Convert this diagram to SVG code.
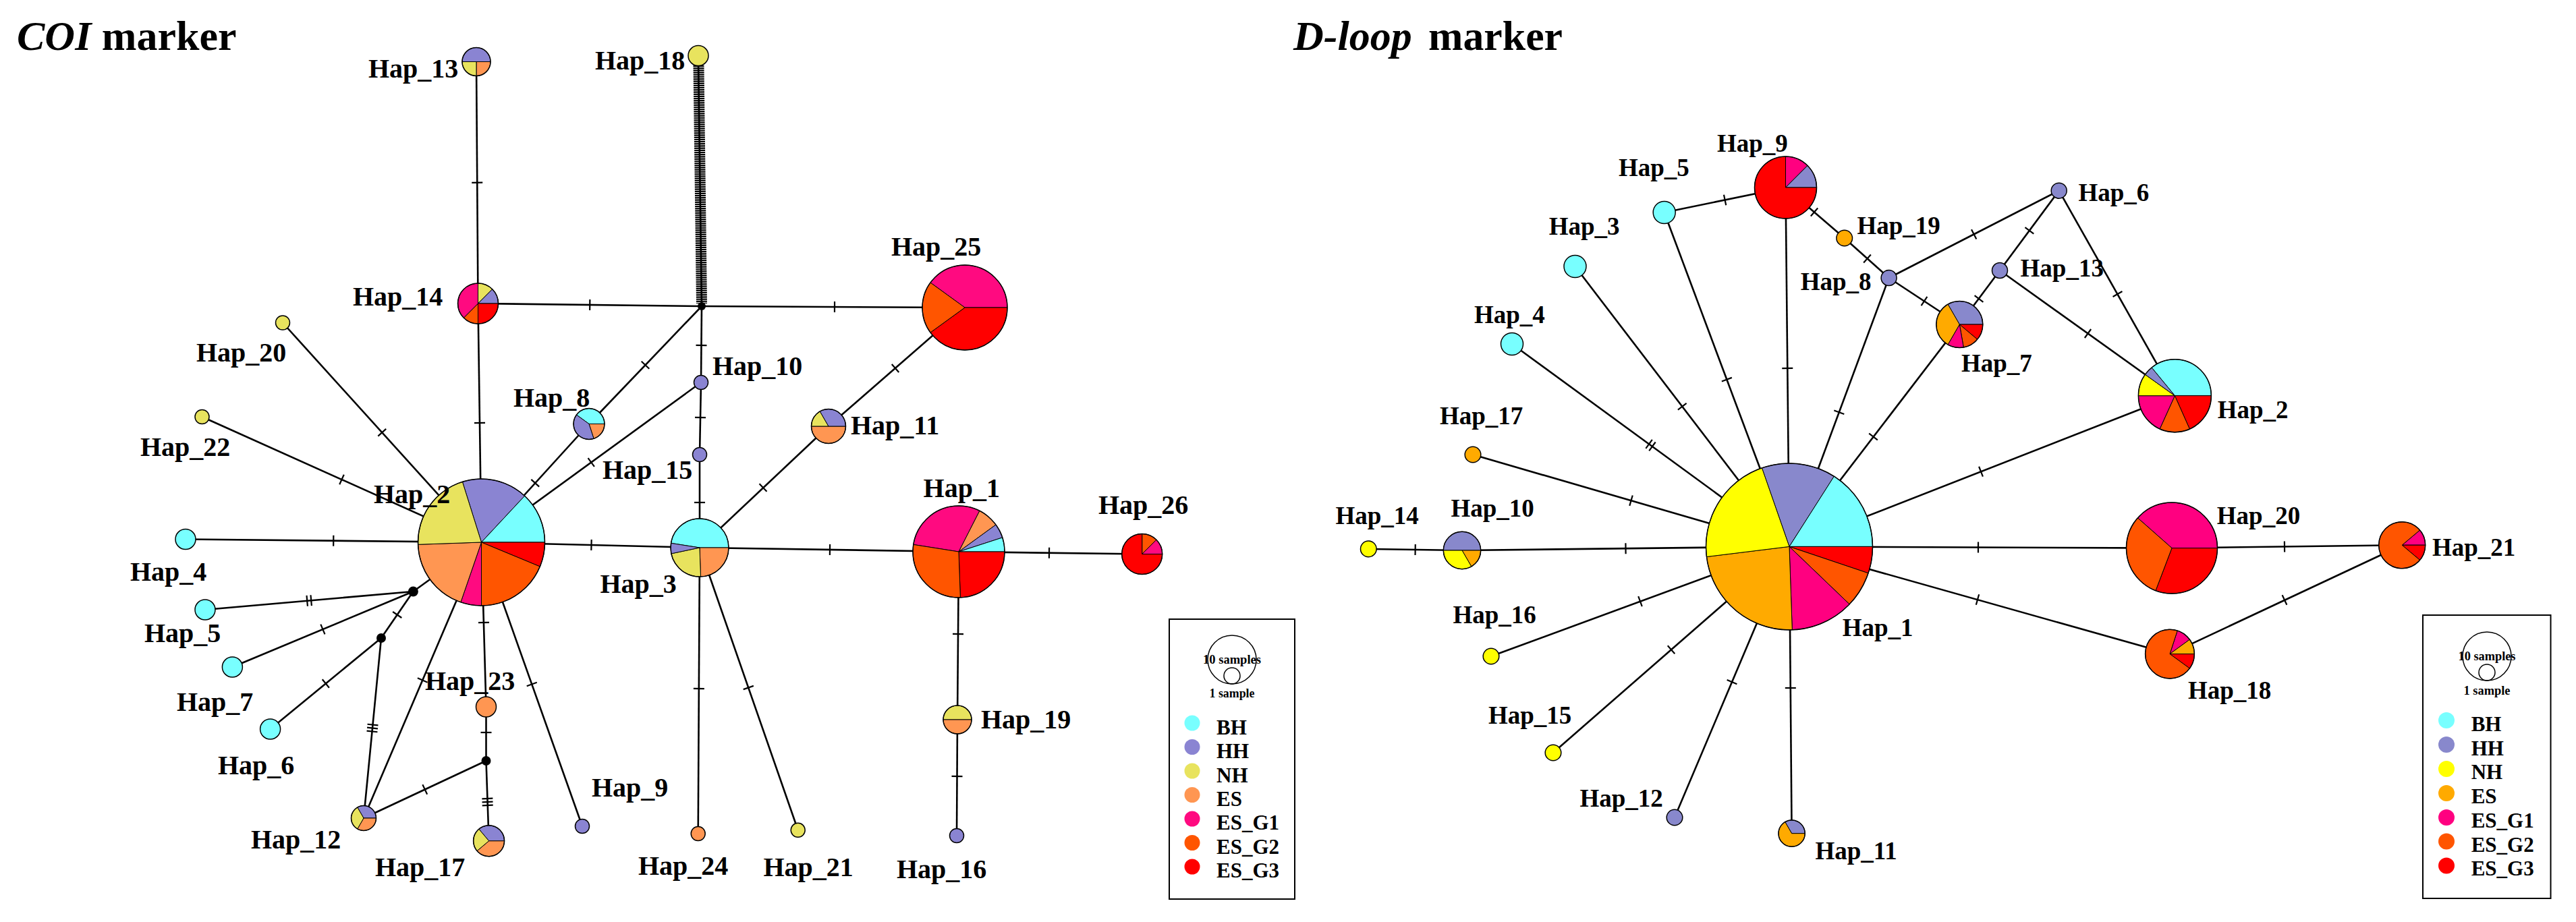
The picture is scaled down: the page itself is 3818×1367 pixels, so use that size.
<svg xmlns="http://www.w3.org/2000/svg" xmlns:xlink="http://www.w3.org/1999/xlink" width="3818" height="1367" viewBox="0 0 3818 1367">
<style>
.ln{stroke:#000;stroke-width:2.6;fill:none}
.o{stroke:#000;stroke-width:1.5}
.s{stroke:#000;stroke-width:1;stroke-linejoin:round}
.ring{fill:none;stroke:#000;stroke-width:1.5}
.dot{fill:#000}
.cbh{fill:#78FFFF}.chh{fill:#8A84D2}.cnh{fill:#E8E35E}.ces{fill:#FF9652}.cg1{fill:#FF0A80}.cg2{fill:#FF5500}.cg3{fill:#FF0000}
.dbh{fill:#78FFFF}.dhh{fill:#8888CC}.dnh{fill:#FFFF00}.des{fill:#FFAA00}.dg1{fill:#FF0080}.dg2{fill:#FF5500}.dg3{fill:#FF0000}
text{font-family:"Liberation Serif","Times New Roman",serif;font-weight:bold;fill:#000}
.lc{font-size:40px}
.ld{font-size:37px}
.lg{font-size:31px}
.ls{font-size:19px}
.ttl{font-size:62px}
.it{font-style:italic}
</style>
<defs>
<line id="t1" x1="0" y1="-8" x2="0" y2="8" stroke="#000" stroke-width="2.2"/>
<g id="t2" stroke="#000" stroke-width="2.2"><line x1="-3" y1="-8" x2="-3" y2="8"/><line x1="3" y1="-8" x2="3" y2="8"/></g>
<g id="t3" stroke="#000" stroke-width="2.2"><line x1="-5" y1="-8" x2="-5" y2="8"/><line x1="0" y1="-8" x2="0" y2="8"/><line x1="5" y1="-8" x2="5" y2="8"/></g>
</defs>
<rect width="3818" height="1367" fill="#fff"/>

<text class="ttl" x="25" y="74"><tspan class="it">COI</tspan> marker</text>
<text class="ttl it" x="1917" y="74">D-loop</text>
<text class="ttl" x="2117" y="74" textLength="199" lengthAdjust="spacingAndGlyphs">marker</text>

<g id="coi-connectors">
<line class="ln" x1="706" y1="91.5" x2="708.5" y2="450"/>
<line class="ln" x1="708.5" y1="450" x2="1040" y2="454"/>
<line class="ln" x1="708.5" y1="450" x2="713.5" y2="804"/>
<line class="ln" x1="419" y1="478.5" x2="713.5" y2="804"/>
<line class="ln" x1="299.5" y1="618" x2="713.5" y2="804"/>
<line class="ln" x1="275" y1="799.5" x2="713.5" y2="804"/>
<line class="ln" x1="304" y1="904" x2="612.4" y2="877"/>
<line class="ln" x1="344.4" y1="989" x2="612.4" y2="877"/>
<line class="ln" x1="612.4" y1="877" x2="713.5" y2="804"/>
<line class="ln" x1="612.4" y1="877" x2="565" y2="946"/>
<line class="ln" x1="565" y1="946" x2="400.6" y2="1081"/>
<line class="ln" x1="565" y1="946" x2="539" y2="1213"/>
<line class="ln" x1="713.5" y1="804" x2="539" y2="1213"/>
<line class="ln" x1="713.5" y1="804" x2="720.5" y2="1048"/>
<line class="ln" x1="720.5" y1="1048" x2="720.5" y2="1128"/>
<line class="ln" x1="720.5" y1="1128" x2="539" y2="1213"/>
<line class="ln" x1="720.5" y1="1128" x2="724.6" y2="1246.8"/>
<line class="ln" x1="713.5" y1="804" x2="863" y2="1225"/>
<line class="ln" x1="713.5" y1="804" x2="873" y2="628.5"/>
<line class="ln" x1="873" y1="628.5" x2="1040" y2="454"/>
<line class="ln" x1="713.5" y1="804" x2="1039" y2="567"/>
<line class="ln" x1="1040" y1="454" x2="1039" y2="567"/>
<line class="ln" x1="1039" y1="567" x2="1037" y2="674"/>
<line class="ln" x1="1037" y1="674" x2="1037" y2="812"/>
<line class="ln" x1="1040" y1="454" x2="1430" y2="456"/>
<line class="ln" x1="1430" y1="456" x2="1228" y2="632"/>
<line class="ln" x1="1228" y1="632" x2="1037" y2="812"/>
<line class="ln" x1="713.5" y1="804" x2="1037" y2="812"/>
<line class="ln" x1="1037" y1="812" x2="1034.7" y2="1236"/>
<line class="ln" x1="1037" y1="812" x2="1182.7" y2="1230.8"/>
<line class="ln" x1="1037" y1="812" x2="1421" y2="818"/>
<line class="ln" x1="1421" y1="818" x2="1692.7" y2="821.5"/>
<line class="ln" x1="1421" y1="818" x2="1419" y2="1067"/>
<line class="ln" x1="1419" y1="1067" x2="1418" y2="1239"/>
<line x1="1035.5" y1="97" x2="1040" y2="450" stroke="#000" stroke-width="16" stroke-dasharray="2.2 1"/>
<line class="ln" x1="1035" y1="90" x2="1040" y2="454" stroke-width="5"/>
<use xlink:href="#t1" transform="translate(707.25 270.75) rotate(89.6)"/>
<use xlink:href="#t1" transform="translate(874.25 452) rotate(0.7)"/>
<use xlink:href="#t1" transform="translate(711 627) rotate(89.2)"/>
<use xlink:href="#t1" transform="translate(566.25 641.25) rotate(47.9)"/>
<use xlink:href="#t1" transform="translate(506.5 711) rotate(24.2)"/>
<use xlink:href="#t1" transform="translate(494.25 801.75) rotate(0.6)"/>
<use xlink:href="#t2" transform="translate(458.2 890.5) rotate(-5)"/>
<use xlink:href="#t1" transform="translate(478.4 933) rotate(-22.7)"/>
<use xlink:href="#t1" transform="translate(588.7 911.5) rotate(124.5)"/>
<use xlink:href="#t1" transform="translate(482.8 1013.5) rotate(140.6)"/>
<use xlink:href="#t3" transform="translate(552 1079.5) rotate(95.6)"/>
<use xlink:href="#t1" transform="translate(626.25 1008.5) rotate(113.1)"/>
<use xlink:href="#t1" transform="translate(717 923) rotate(88.4)"/>
<use xlink:href="#t1" transform="translate(720.5 1086) rotate(90)"/>
<use xlink:href="#t1" transform="translate(629.75 1170.5) rotate(154.9)"/>
<use xlink:href="#t3" transform="translate(722.55 1189) rotate(88)"/>
<use xlink:href="#t1" transform="translate(788.25 1014.5) rotate(70.4)"/>
<use xlink:href="#t1" transform="translate(793.25 716.25) rotate(-47.7)"/>
<use xlink:href="#t1" transform="translate(956.5 541.25) rotate(-46.3)"/>
<use xlink:href="#t1" transform="translate(876.25 685.5) rotate(-36)"/>
<use xlink:href="#t1" transform="translate(1039.5 512) rotate(90.5)"/>
<use xlink:href="#t1" transform="translate(1038 619) rotate(91)"/>
<use xlink:href="#t1" transform="translate(1037 745) rotate(90)"/>
<use xlink:href="#t1" transform="translate(1237 455) rotate(0.3)"/>
<use xlink:href="#t1" transform="translate(1327 546) rotate(138.9)"/>
<use xlink:href="#t1" transform="translate(1131 723) rotate(136.7)"/>
<use xlink:href="#t1" transform="translate(876.5 808) rotate(1.4)"/>
<use xlink:href="#t1" transform="translate(1035.85 1021) rotate(90.3)"/>
<use xlink:href="#t1" transform="translate(1109.3 1019.5) rotate(70.8)"/>
<use xlink:href="#t1" transform="translate(1230 815) rotate(0.9)"/>
<use xlink:href="#t1" transform="translate(1555 819.7) rotate(0.7)"/>
<use xlink:href="#t1" transform="translate(1420 940) rotate(90.5)"/>
<use xlink:href="#t1" transform="translate(1418.5 1151) rotate(90.3)"/>
</g>

<g id="coi-junctions">
<circle class="dot" cx="1040" cy="454" r="6"/>
<circle class="dot" cx="612.4" cy="877" r="7.5"/>
<circle class="dot" cx="565" cy="946" r="7"/>
<circle class="dot" cx="720.5" cy="1128" r="7"/>
</g>

<g id="coi-hap13">
<path class="s chh" d="M706 91.5 L685 91.5 A21 21 0 0 1 727 91.5 Z"/>
<path class="s ces" d="M706 91.5 L727 91.5 A21 21 0 0 1 706 112.5 Z"/>
<path class="s cnh" d="M706 91.5 L706 112.5 A21 21 0 0 1 685 91.5 Z"/>
<circle class="ring" cx="706" cy="91.5" r="21"/>
<text class="lc" x="546" y="115">Hap_13</text>
</g>
<g id="coi-hap18">
<circle class="o cnh" cx="1035" cy="82.5" r="15"/>
<text class="lc" x="882" y="103">Hap_18</text>
</g>
<g id="coi-hap14">
<path class="s cnh" d="M708.5 450 L708.5 420 A30 30 0 0 1 729.7 428.8 Z"/>
<path class="s chh" d="M708.5 450 L729.7 428.8 A30 30 0 0 1 738.5 450 Z"/>
<path class="s cg3" d="M708.5 450 L738.5 450 A30 30 0 0 1 708.5 480 Z"/>
<path class="s cg2" d="M708.5 450 L708.5 480 A30 30 0 0 1 687.3 471.2 Z"/>
<path class="s cg1" d="M708.5 450 L687.3 471.2 A30 30 0 0 1 708.5 420 Z"/>
<circle class="ring" cx="708.5" cy="450" r="30"/>
<text class="lc" x="523" y="453">Hap_14</text>
</g>
<g id="coi-hap20">
<circle class="o cnh" cx="419" cy="478.5" r="10.5"/>
<text class="lc" x="291" y="536">Hap_20</text>
</g>
<g id="coi-hap22">
<circle class="o cnh" cx="299.5" cy="618" r="10.5"/>
<text class="lc" x="208" y="676">Hap_22</text>
</g>
<g id="coi-hap8">
<path class="s cbh" d="M873 628.5 L854.4 615 A23 23 0 0 1 896 628.5 Z"/>
<path class="s ces" d="M873 628.5 L896 628.5 A23 23 0 0 1 880.1 650.4 Z"/>
<path class="s chh" d="M873 628.5 L880.1 650.4 A23 23 0 0 1 854.4 615 Z"/>
<circle class="ring" cx="873" cy="628.5" r="23"/>
<text class="lc" x="761" y="603">Hap_8</text>
</g>
<g id="coi-hap10">
<circle class="o chh" cx="1039" cy="567" r="10.5"/>
<text class="lc" x="1056" y="556">Hap_10</text>
</g>
<g id="coi-hap15">
<circle class="o chh" cx="1037" cy="674" r="10.5"/>
<text class="lc" x="893" y="709.5">Hap_15</text>
</g>
<g id="coi-hap25">
<path class="s cg1" d="M1430 456 L1379 419 A63 63 0 0 1 1493 456 Z"/>
<path class="s cg3" d="M1430 456 L1493 456 A63 63 0 0 1 1379 493 Z"/>
<path class="s cg2" d="M1430 456 L1379 493 A63 63 0 0 1 1379 419 Z"/>
<circle class="ring" cx="1430" cy="456" r="63"/>
<text class="lc" x="1321" y="378.5">Hap_25</text>
</g>
<g id="coi-hap11">
<path class="s ces" d="M1228 632 L1253.5 632 A25.5 25.5 0 0 1 1202.5 632 Z"/>
<path class="s cnh" d="M1228 632 L1202.5 632 A25.5 25.5 0 0 1 1215.25 609.9 Z"/>
<path class="s chh" d="M1228 632 L1215.25 609.9 A25.5 25.5 0 0 1 1253.5 632 Z"/>
<circle class="ring" cx="1228" cy="632" r="25.5"/>
<text class="lc" x="1261" y="644">Hap_11</text>
</g>
<g id="coi-hap2">
<path class="s chh" d="M713.5 804 L685.4 714.3 A94 94 0 0 1 777.6 735.3 Z"/>
<path class="s cbh" d="M713.5 804 L777.6 735.3 A94 94 0 0 1 807.5 804 Z"/>
<path class="s cg3" d="M713.5 804 L807.5 804 A94 94 0 0 1 800.3 840 Z"/>
<path class="s cg2" d="M713.5 804 L800.3 840 A94 94 0 0 1 713.5 898 Z"/>
<path class="s cg1" d="M713.5 804 L713.5 898 A94 94 0 0 1 682.9 892.9 Z"/>
<path class="s ces" d="M713.5 804 L682.9 892.9 A94 94 0 0 1 619.6 807.3 Z"/>
<path class="s cnh" d="M713.5 804 L619.6 807.3 A94 94 0 0 1 685.4 714.3 Z"/>
<circle class="ring" cx="713.5" cy="804" r="94"/>
<text class="lc" x="554" y="746">Hap_2</text>
</g>
<g id="coi-hap4">
<circle class="o cbh" cx="275" cy="799.5" r="15"/>
<text class="lc" x="193" y="861">Hap_4</text>
</g>
<g id="coi-hap5">
<circle class="o cbh" cx="304" cy="904" r="15"/>
<text class="lc" x="214" y="952">Hap_5</text>
</g>
<g id="coi-hap7">
<circle class="o cbh" cx="344.4" cy="989" r="15"/>
<text class="lc" x="262" y="1054">Hap_7</text>
</g>
<g id="coi-hap6">
<circle class="o cbh" cx="400.6" cy="1081" r="15"/>
<text class="lc" x="323" y="1147.5">Hap_6</text>
</g>
<g id="coi-hap12">
<path class="s chh" d="M539 1213 L529.75 1197 A18.5 18.5 0 0 1 557.5 1213 Z"/>
<path class="s ces" d="M539 1213 L557.5 1213 A18.5 18.5 0 0 1 529.75 1229 Z"/>
<path class="s cnh" d="M539 1213 L529.75 1229 A18.5 18.5 0 0 1 529.75 1197 Z"/>
<circle class="ring" cx="539" cy="1213" r="18.5"/>
<text class="lc" x="372" y="1258">Hap_12</text>
</g>
<g id="coi-hap23">
<circle class="o ces" cx="720.5" cy="1048" r="15"/>
<text class="lc" x="630" y="1023">Hap_23</text>
</g>
<g id="coi-hap17">
<path class="s chh" d="M724.6 1246.8 L709.8 1229.2 A23 23 0 0 1 747.6 1246.8 Z"/>
<path class="s ces" d="M724.6 1246.8 L747.6 1246.8 A23 23 0 0 1 707 1261.6 Z"/>
<path class="s cnh" d="M724.6 1246.8 L707 1261.6 A23 23 0 0 1 709.8 1229.2 Z"/>
<circle class="ring" cx="724.6" cy="1246.8" r="23"/>
<text class="lc" x="556" y="1299">Hap_17</text>
</g>
<g id="coi-hap9">
<circle class="o chh" cx="863" cy="1225" r="10.5"/>
<text class="lc" x="877" y="1180.5">Hap_9</text>
</g>
<g id="coi-hap3">
<path class="s cbh" d="M1037 812 L994.5 805.3 A43 43 0 0 1 1080 812 Z"/>
<path class="s ces" d="M1037 812 L1080 812 A43 43 0 0 1 1038.5 855 Z"/>
<path class="s cnh" d="M1037 812 L1038.5 855 A43 43 0 0 1 994.9 820.9 Z"/>
<path class="s chh" d="M1037 812 L994.9 820.9 A43 43 0 0 1 994.5 805.3 Z"/>
<circle class="ring" cx="1037" cy="812" r="43"/>
<text class="lc" x="889.5" y="878.6">Hap_3</text>
</g>
<g id="coi-hap24">
<circle class="o ces" cx="1034.7" cy="1236" r="10.5"/>
<text class="lc" x="946" y="1297">Hap_24</text>
</g>
<g id="coi-hap21">
<circle class="o cnh" cx="1182.7" cy="1230.8" r="10.5"/>
<text class="lc" x="1131.5" y="1299">Hap_21</text>
</g>
<g id="coi-hap1">
<path class="s cg1" d="M1421 818 L1353.8 807.4 A68 68 0 0 1 1451.9 757.4 Z"/>
<path class="s ces" d="M1421 818 L1451.9 757.4 A68 68 0 0 1 1476 778 Z"/>
<path class="s chh" d="M1421 818 L1476 778 A68 68 0 0 1 1485.7 797 Z"/>
<path class="s cbh" d="M1421 818 L1485.7 797 A68 68 0 0 1 1489 818 Z"/>
<path class="s cg3" d="M1421 818 L1489 818 A68 68 0 0 1 1423.4 886 Z"/>
<path class="s cg2" d="M1421 818 L1423.4 886 A68 68 0 0 1 1353.8 807.4 Z"/>
<circle class="ring" cx="1421" cy="818" r="68"/>
<text class="lc" x="1368.6" y="737">Hap_1</text>
</g>
<g id="coi-hap26">
<path class="s cg2" d="M1692.7 821.5 L1692.7 791.5 A30 30 0 0 1 1713.9 800.3 Z"/>
<path class="s cg1" d="M1692.7 821.5 L1713.9 800.3 A30 30 0 0 1 1722.7 821.5 Z"/>
<path class="s cg3" d="M1692.7 821.5 L1722.7 821.5 A30 30 0 1 1 1692.7 791.5 Z"/>
<circle class="ring" cx="1692.7" cy="821.5" r="30"/>
<text class="lc" x="1628" y="762">Hap_26</text>
</g>
<g id="coi-hap19">
<path class="s cnh" d="M1419 1067 L1398 1067 A21 21 0 0 1 1440 1067 Z"/>
<path class="s ces" d="M1419 1067 L1440 1067 A21 21 0 0 1 1398 1067 Z"/>
<circle class="ring" cx="1419" cy="1067" r="21"/>
<text class="lc" x="1454" y="1080">Hap_19</text>
</g>
<g id="coi-hap16">
<circle class="o chh" cx="1418" cy="1239" r="10.5"/>
<text class="lc" x="1329" y="1301.6">Hap_16</text>
</g>

<g id="coi-legend">
<rect x="1733" y="918" width="186" height="415" fill="none" stroke="#000" stroke-width="2"/>
<circle class="ring" cx="1826" cy="978" r="36"/>
<circle class="ring" cx="1826" cy="1002" r="12"/>
<text class="ls" x="1826" y="984" text-anchor="middle" textLength="86" lengthAdjust="spacingAndGlyphs">10 samples</text>
<text class="ls" x="1826" y="1034" text-anchor="middle" textLength="67" lengthAdjust="spacingAndGlyphs">1 sample</text>
<circle class="cbh" cx="1767" cy="1072" r="11.5"/>
<circle class="chh" cx="1767" cy="1107.5" r="11.5"/>
<circle class="cnh" cx="1767" cy="1143" r="11.5"/>
<circle class="ces" cx="1767" cy="1178.5" r="11.5"/>
<circle class="cg1" cx="1767" cy="1214" r="11.5"/>
<circle class="cg2" cx="1767" cy="1249.5" r="11.5"/>
<circle class="cg3" cx="1767" cy="1285" r="11.5"/>
<text class="lg" x="1803" y="1089">BH</text>
<text class="lg" x="1803" y="1124">HH</text>
<text class="lg" x="1803" y="1159.5">NH</text>
<text class="lg" x="1803" y="1195">ES</text>
<text class="lg" x="1803" y="1230">ES_G1</text>
<text class="lg" x="1803" y="1265.5">ES_G2</text>
<text class="lg" x="1803" y="1301">ES_G3</text>
</g>

<g id="dloop-connectors">
<line class="ln" x1="2466.7" y1="315" x2="2646.5" y2="278"/>
<line class="ln" x1="2466.7" y1="315" x2="2652" y2="810.4"/>
<line class="ln" x1="2334.5" y1="395" x2="2652" y2="810.4"/>
<line class="ln" x1="2241" y1="510" x2="2652" y2="810.4"/>
<line class="ln" x1="2183" y1="674" x2="2652" y2="810.4"/>
<line class="ln" x1="2028.3" y1="813.9" x2="2167" y2="816"/>
<line class="ln" x1="2167" y1="816" x2="2652" y2="810.4"/>
<line class="ln" x1="2210" y1="973" x2="2652" y2="810.4"/>
<line class="ln" x1="2302" y1="1116" x2="2652" y2="810.4"/>
<line class="ln" x1="2482" y1="1212" x2="2652" y2="810.4"/>
<line class="ln" x1="2655.6" y1="1235.7" x2="2652" y2="810.4"/>
<line class="ln" x1="2646.5" y1="278" x2="2652" y2="810.4"/>
<line class="ln" x1="2646.5" y1="278" x2="2733.7" y2="353"/>
<line class="ln" x1="2733.7" y1="353" x2="2799.6" y2="412"/>
<line class="ln" x1="2799.6" y1="412" x2="2652" y2="810.4"/>
<line class="ln" x1="2799.6" y1="412" x2="3051.7" y2="282.7"/>
<line class="ln" x1="2799.6" y1="412" x2="2904.3" y2="481"/>
<line class="ln" x1="2904.3" y1="481" x2="2652" y2="810.4"/>
<line class="ln" x1="2904.3" y1="481" x2="2964" y2="401"/>
<line class="ln" x1="2964" y1="401" x2="3051.7" y2="282.7"/>
<line class="ln" x1="2964" y1="401" x2="3223.4" y2="586.7"/>
<line class="ln" x1="3051.7" y1="282.7" x2="3223.4" y2="586.7"/>
<line class="ln" x1="2652" y1="810.4" x2="3223.4" y2="586.7"/>
<line class="ln" x1="2652" y1="810.4" x2="3219" y2="812.6"/>
<line class="ln" x1="3219" y1="812.6" x2="3560.2" y2="808.2"/>
<line class="ln" x1="2652" y1="810.4" x2="3216" y2="969.6"/>
<line class="ln" x1="3216" y1="969.6" x2="3560.2" y2="808.2"/>
<use xlink:href="#t1" transform="translate(2556.6 296.5) rotate(-11.6)"/>
<use xlink:href="#t1" transform="translate(2559.35 562.7) rotate(69.5)"/>
<use xlink:href="#t1" transform="translate(2493.25 602.7) rotate(52.6)"/>
<use xlink:href="#t2" transform="translate(2446.5 660.2) rotate(36.2)"/>
<use xlink:href="#t1" transform="translate(2417.5 742.2) rotate(16.2)"/>
<use xlink:href="#t1" transform="translate(2097.65 815) rotate(0.9)"/>
<use xlink:href="#t1" transform="translate(2409.5 813.2) rotate(-0.7)"/>
<use xlink:href="#t1" transform="translate(2431 891.7) rotate(-20.2)"/>
<use xlink:href="#t1" transform="translate(2477 963.2) rotate(-41.1)"/>
<use xlink:href="#t1" transform="translate(2567 1011.2) rotate(-67)"/>
<use xlink:href="#t1" transform="translate(2653.8 1020) rotate(90)"/>
<use xlink:href="#t1" transform="translate(2649.25 546) rotate(89.4)"/>
<use xlink:href="#t1" transform="translate(2689 314.5) rotate(40.7)"/>
<use xlink:href="#t1" transform="translate(2767.5 383.5) rotate(41.8)"/>
<use xlink:href="#t1" transform="translate(2725.8 611.2) rotate(110.3)"/>
<use xlink:href="#t1" transform="translate(2925.65 347.35) rotate(-27.2)"/>
<use xlink:href="#t1" transform="translate(2851.95 446.5) rotate(33.4)"/>
<use xlink:href="#t1" transform="translate(2776.5 647.5) rotate(127.5)"/>
<use xlink:href="#t1" transform="translate(2933 443) rotate(-53.3)"/>
<use xlink:href="#t1" transform="translate(3007.85 341.85) rotate(-53.4)"/>
<use xlink:href="#t1" transform="translate(3094.5 494.5) rotate(35.6)"/>
<use xlink:href="#t1" transform="translate(3138.5 436) rotate(60.5)"/>
<use xlink:href="#t1" transform="translate(2936 699.2) rotate(-21.4)"/>
<use xlink:href="#t1" transform="translate(2932 811.5) rotate(0.2)"/>
<use xlink:href="#t1" transform="translate(3386 810.4) rotate(-0.7)"/>
<use xlink:href="#t1" transform="translate(2931 889) rotate(15.8)"/>
<use xlink:href="#t1" transform="translate(3386 889.5) rotate(-25.1)"/>
</g>

<g id="dloop-hap5">
<circle class="o dbh" cx="2466.7" cy="315" r="16.5"/>
<text class="ld" x="2399" y="261">Hap_5</text>
</g>
<g id="dloop-hap3">
<circle class="o dbh" cx="2334.5" cy="395" r="16.5"/>
<text class="ld" x="2295.7" y="347.7">Hap_3</text>
</g>
<g id="dloop-hap4">
<circle class="o dbh" cx="2241" cy="510" r="16.5"/>
<text class="ld" x="2185" y="478.5">Hap_4</text>
</g>
<g id="dloop-hap17">
<circle class="o des" cx="2183" cy="674" r="11.8"/>
<text class="ld" x="2134" y="629">Hap_17</text>
</g>
<g id="dloop-hap9">
<path class="s dg1" d="M2646.5 278 L2646.5 232 A46 46 0 0 1 2679 245.5 Z"/>
<path class="s dhh" d="M2646.5 278 L2679 245.5 A46 46 0 0 1 2692.5 278 Z"/>
<path class="s dg3" d="M2646.5 278 L2692.5 278 A46 46 0 1 1 2646.5 232 Z"/>
<circle class="ring" cx="2646.5" cy="278" r="46"/>
<text class="ld" x="2545" y="224.6">Hap_9</text>
</g>
<g id="dloop-hap19">
<circle class="o des" cx="2733.7" cy="353" r="11.8"/>
<text class="ld" x="2752.5" y="346.8">Hap_19</text>
</g>
<g id="dloop-hap8">
<circle class="o dhh" cx="2799.6" cy="412" r="11.5"/>
<text class="ld" x="2668.7" y="429.7">Hap_8</text>
</g>
<g id="dloop-hap6">
<circle class="o dhh" cx="3051.7" cy="282.7" r="11.5"/>
<text class="ld" x="3080.5" y="298">Hap_6</text>
</g>
<g id="dloop-hap13">
<circle class="o dhh" cx="2964" cy="401" r="11.5"/>
<text class="ld" x="2994.6" y="410">Hap_13</text>
</g>
<g id="dloop-hap7">
<path class="s dhh" d="M2904.3 481 L2887.05 451.12 A34.5 34.5 0 0 1 2938.8 481 Z"/>
<path class="s dg3" d="M2904.3 481 L2938.8 481 A34.5 34.5 0 0 1 2930.7 503.2 Z"/>
<path class="s dg2" d="M2904.3 481 L2930.7 503.2 A34.5 34.5 0 0 1 2910.3 515 Z"/>
<path class="s dg1" d="M2904.3 481 L2910.3 515 A34.5 34.5 0 0 1 2887.05 510.9 Z"/>
<path class="s des" d="M2904.3 481 L2887.05 510.9 A34.5 34.5 0 0 1 2887.05 451.12 Z"/>
<circle class="ring" cx="2904.3" cy="481" r="34.5"/>
<text class="ld" x="2907" y="550.5">Hap_7</text>
</g>
<g id="dloop-hap2">
<path class="s dbh" d="M3223.4 586.7 L3189.1 545 A54 54 0 0 1 3277.4 586.7 Z"/>
<path class="s dg3" d="M3223.4 586.7 L3277.4 586.7 A54 54 0 0 1 3245.4 636.1 Z"/>
<path class="s dg2" d="M3223.4 586.7 L3245.4 636.1 A54 54 0 0 1 3201.1 635.9 Z"/>
<path class="s dg1" d="M3223.4 586.7 L3201.1 635.9 A54 54 0 0 1 3169.4 586.7 Z"/>
<path class="s dnh" d="M3223.4 586.7 L3169.4 586.7 A54 54 0 0 1 3179.4 555.3 Z"/>
<path class="s dhh" d="M3223.4 586.7 L3179.4 555.3 A54 54 0 0 1 3189.1 545 Z"/>
<circle class="ring" cx="3223.4" cy="586.7" r="54"/>
<text class="ld" x="3286.7" y="620.3">Hap_2</text>
</g>
<g id="dloop-hap14">
<circle class="o dnh" cx="2028.3" cy="813.9" r="11.8"/>
<text class="ld" x="1979.5" y="776.8">Hap_14</text>
</g>
<g id="dloop-hap10">
<path class="s dhh" d="M2167 816 L2139.3 816 A27.7 27.7 0 0 1 2194.7 816 Z"/>
<path class="s des" d="M2167 816 L2194.7 816 A27.7 27.7 0 0 1 2180.85 840 Z"/>
<path class="s dnh" d="M2167 816 L2180.85 840 A27.7 27.7 0 0 1 2139.3 816 Z"/>
<circle class="ring" cx="2167" cy="816" r="27.7"/>
<text class="ld" x="2150.5" y="766">Hap_10</text>
</g>
<g id="dloop-hap16">
<circle class="o dnh" cx="2210" cy="973" r="11.8"/>
<text class="ld" x="2153.5" y="924">Hap_16</text>
</g>
<g id="dloop-hap15">
<circle class="o dnh" cx="2302" cy="1116" r="11.8"/>
<text class="ld" x="2206" y="1072.5">Hap_15</text>
</g>
<g id="dloop-hap12">
<circle class="o dhh" cx="2482" cy="1212" r="11.8"/>
<text class="ld" x="2341.5" y="1195.6">Hap_12</text>
</g>
<g id="dloop-hap1">
<path class="s dhh" d="M2652 810.4 L2611.4 693.8 A123.5 123.5 0 0 1 2718.3 706.3 Z"/>
<path class="s dbh" d="M2652 810.4 L2718.3 706.3 A123.5 123.5 0 0 1 2775.5 810.4 Z"/>
<path class="s dg3" d="M2652 810.4 L2775.5 810.4 A123.5 123.5 0 0 1 2769.1 849.8 Z"/>
<path class="s dg2" d="M2652 810.4 L2769.1 849.8 A123.5 123.5 0 0 1 2741.2 895.9 Z"/>
<path class="s dg1" d="M2652 810.4 L2741.2 895.9 A123.5 123.5 0 0 1 2656.3 933.8 Z"/>
<path class="s des" d="M2652 810.4 L2656.3 933.8 A123.5 123.5 0 0 1 2529.4 825.5 Z"/>
<path class="s dnh" d="M2652 810.4 L2529.4 825.5 A123.5 123.5 0 0 1 2611.4 693.8 Z"/>
<circle class="ring" cx="2652" cy="810.4" r="123.5"/>
<text class="ld" x="2730.7" y="942.5">Hap_1</text>
</g>
<g id="dloop-hap11">
<path class="s dhh" d="M2655.6 1235.7 L2645.8 1218.7 A19.6 19.6 0 0 1 2675.2 1235.7 Z"/>
<path class="s des" d="M2655.6 1235.7 L2675.2 1235.7 A19.6 19.6 0 1 1 2645.8 1218.7 Z"/>
<circle class="ring" cx="2655.6" cy="1235.7" r="19.6"/>
<text class="ld" x="2690.5" y="1274">Hap_11</text>
</g>
<g id="dloop-hap20">
<path class="s dg1" d="M3219 812.6 L3168.4 767.9 A67.5 67.5 0 0 1 3286.5 812.6 Z"/>
<path class="s dg3" d="M3219 812.6 L3286.5 812.6 A67.5 67.5 0 0 1 3195 875.7 Z"/>
<path class="s dg2" d="M3219 812.6 L3195 875.7 A67.5 67.5 0 0 1 3168.4 767.9 Z"/>
<circle class="ring" cx="3219" cy="812.6" r="67.5"/>
<text class="ld" x="3285.8" y="776.8">Hap_20</text>
</g>
<g id="dloop-hap21">
<path class="s dg1" d="M3560.2 808.2 L3586.6 786 A34.5 34.5 0 0 1 3594.7 808.2 Z"/>
<path class="s dg3" d="M3560.2 808.2 L3594.7 808.2 A34.5 34.5 0 0 1 3586.6 830.4 Z"/>
<path class="s dg2" d="M3560.2 808.2 L3586.6 830.4 A34.5 34.5 0 1 1 3586.6 786 Z"/>
<circle class="ring" cx="3560.2" cy="808.2" r="34.5"/>
<text class="ld" x="3605" y="823.5">Hap_21</text>
</g>
<g id="dloop-hap18">
<path class="s dg1" d="M3216 969.6 L3227.25 935 A36.4 36.4 0 0 1 3245.45 948.2 Z"/>
<path class="s des" d="M3216 969.6 L3245.45 948.2 A36.4 36.4 0 0 1 3252.4 969.6 Z"/>
<path class="s dg3" d="M3216 969.6 L3252.4 969.6 A36.4 36.4 0 0 1 3245.45 991 Z"/>
<path class="s dg2" d="M3216 969.6 L3245.45 991 A36.4 36.4 0 1 1 3227.25 935 Z"/>
<circle class="ring" cx="3216" cy="969.6" r="36.4"/>
<text class="ld" x="3243" y="1036.3">Hap_18</text>
</g>

<g id="dloop-legend">
<rect x="3591" y="912" width="189.5" height="420" fill="none" stroke="#000" stroke-width="2"/>
<circle class="ring" cx="3686" cy="973" r="36"/>
<circle class="ring" cx="3686" cy="997" r="12"/>
<text class="ls" x="3686" y="978.7" text-anchor="middle" textLength="85" lengthAdjust="spacingAndGlyphs">10 samples</text>
<text class="ls" x="3686" y="1029.8" text-anchor="middle" textLength="69" lengthAdjust="spacingAndGlyphs">1 sample</text>
<circle class="dbh" cx="3626" cy="1068" r="12"/>
<circle class="dhh" cx="3626" cy="1104" r="12"/>
<circle class="dnh" cx="3626" cy="1140" r="12"/>
<circle class="des" cx="3626" cy="1176" r="12"/>
<circle class="dg1" cx="3626" cy="1212" r="12"/>
<circle class="dg2" cx="3626" cy="1247.5" r="12"/>
<circle class="dg3" cx="3626" cy="1283.5" r="12"/>
<text class="lg" x="3662.7" y="1084">BH</text>
<text class="lg" x="3662.7" y="1119.5">HH</text>
<text class="lg" x="3662.7" y="1155.4">NH</text>
<text class="lg" x="3662.7" y="1191">ES</text>
<text class="lg" x="3662.7" y="1227">ES_G1</text>
<text class="lg" x="3662.7" y="1263">ES_G2</text>
<text class="lg" x="3662.7" y="1298">ES_G3</text>
</g>
</svg>
